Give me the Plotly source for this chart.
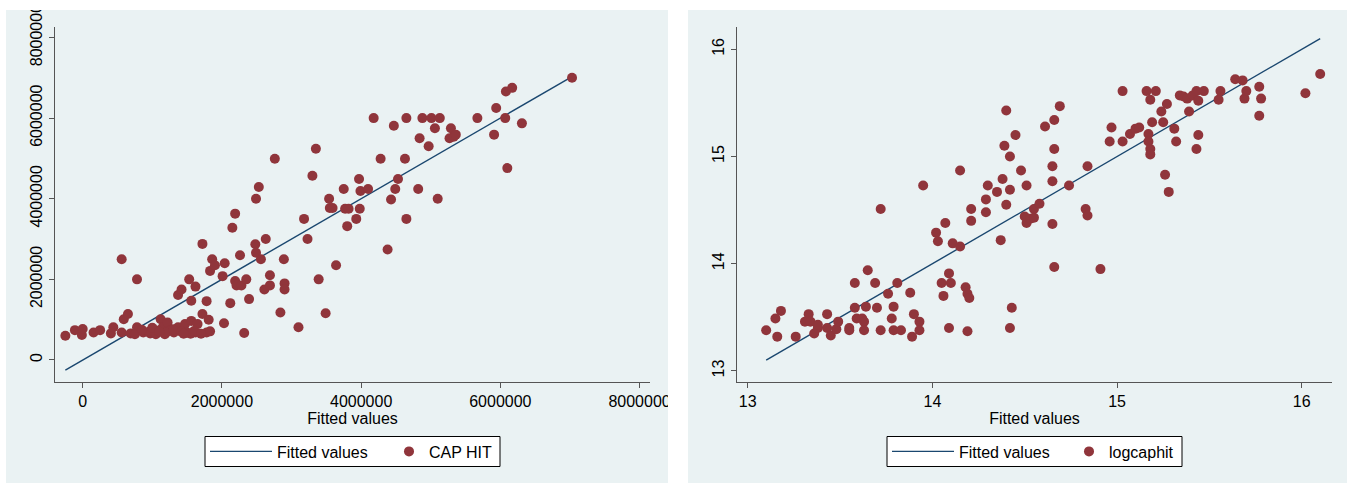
import plotly.graph_objects as go

# ---------------- data: left panel (CAP HIT vs fitted values) ----------------
cap_fitted = [-249000, -112000, -12000, 0, 156000, 250000, 405000, 440000, 560000, 590000,
              650000, 560000, 690000, 780000, 780000, 750000, 870000, 970000, 1060000, 1120000,
              1150000, 1180000, 1220000, 1250000, 1310000, 1370000, 1470000, 1500000, 1560000, 1620000,
              1650000, 1720000, 1780000, 1810000, 1830000, 1370000, 1420000, 1530000, 1560000, 1620000,
              1720000, 1780000, 1830000, 1860000, 1900000, 2010000, 2040000, 2030000, 2120000, 2150000,
              2190000, 2190000, 2210000, 2260000, 2280000, 2320000, 2350000, 2390000, 2480000, 2490000,
              2490000, 2530000, 2560000, 2610000, 2630000, 2690000, 2690000, 2760000, 2840000, 2890000,
              2900000, 2900000, 3100000, 3180000, 3230000, 3300000, 3350000, 3390000, 3490000, 3540000,
              3550000, 3590000, 3640000, 3750000, 3770000, 3820000, 3800000, 3930000, 3970000, 3980000,
              3990000, 4100000, 4180000, 4280000, 4380000, 4430000, 4470000, 4490000, 4530000, 4630000,
              4650000, 4650000, 4820000, 4840000, 4880000, 4970000, 5010000, 5060000, 5100000, 5130000,
              5270000, 5290000, 5330000, 5360000, 5670000, 5910000, 5940000, 6070000, 6080000, 6100000,
              6170000, 6310000, 7030000,
              950000, 1050000, 1200000, 1300000, 1420000, 1550000, 1600000, 1700000, 850000, 1000000,
              1100000, 1450000]
cap_hit = [600000, 740000, 620000, 770000, 680000, 740000, 660000, 810000, 2500000, 1010000,
           1140000, 680000, 660000, 2000000, 810000, 640000, 680000, 660000, 730000, 1010000,
           810000, 640000, 930000, 730000, 680000, 810000, 890000, 680000, 970000, 680000,
           890000, 1140000, 680000, 1000000, 710000, 1610000, 1750000, 2000000, 1470000, 1820000,
           2880000, 1460000, 2210000, 2500000, 2350000, 2080000, 2400000, 910000, 1410000, 3280000,
           3630000, 1960000, 1850000, 2600000, 1850000, 670000, 2000000, 1510000, 2870000, 4000000,
           2660000, 4290000, 2500000, 1750000, 3000000, 2100000, 1850000, 4990000, 1180000, 2500000,
           1900000, 1750000, 810000, 3500000, 3000000, 4570000, 5240000, 2000000, 1160000, 4000000,
           3770000, 3770000, 2350000, 4240000, 3750000, 3750000, 3320000, 3500000, 4490000, 3750000,
           4190000, 4240000, 6000000, 4990000, 2740000, 3980000, 5810000, 4240000, 4490000, 4990000,
           6000000, 3500000, 4240000, 5500000, 6000000, 5300000, 6000000, 5750000, 4000000, 6000000,
           5500000, 5750000, 5540000, 5590000, 6000000, 5590000, 6250000, 6000000, 6660000, 4760000,
           6750000, 5870000, 7000000,
           700000, 640000, 690000, 760000, 700000, 650000, 720000, 650000, 750000, 800000,
           700000, 650000]
cap_ticks = [0, 2000000, 4000000, 6000000, 8000000]
cap_ticktext = ["0", "2000000", "4000000", "6000000", "8000000"]

# ---------------- data: right panel (logcaphit vs fitted values) ----------------
log_fitted = [13.10, 13.15, 13.16, 13.18, 13.26, 13.31, 13.33, 13.34, 13.36, 13.38,
              13.38, 13.43, 13.43, 13.45, 13.48, 13.49, 13.55, 13.55, 13.58, 13.58,
              13.59, 13.62, 13.63, 13.63, 13.64, 13.65, 13.69, 13.70, 13.72, 13.72,
              13.76, 13.78, 13.79, 13.79, 13.81, 13.83, 13.88, 13.89, 13.90, 13.93,
              13.93, 13.95, 14.02, 14.03, 14.05, 14.06, 14.07, 14.09, 14.09, 14.10,
              14.11, 14.15, 14.15, 14.18, 14.19, 14.19, 14.20, 14.21, 14.21, 14.29,
              14.29, 14.30, 14.35, 14.37, 14.38, 14.39, 14.40, 14.40, 14.42, 14.42,
              14.42, 14.43, 14.45, 14.48, 14.50, 14.51, 14.51, 14.53, 14.55, 14.55,
              14.58, 14.61, 14.65, 14.65, 14.65, 14.66, 14.66, 14.66, 14.69, 14.74,
              14.83, 14.84, 14.84, 14.91, 14.96, 14.97, 15.03, 15.03, 15.07, 15.10,
              15.12, 15.16, 15.17, 15.17, 15.18, 15.18, 15.18, 15.19, 15.21, 15.24,
              15.25, 15.26, 15.27, 15.28, 15.31, 15.32, 15.34, 15.36, 15.38, 15.39,
              15.41, 15.43, 15.43, 15.44, 15.44, 15.47, 15.55, 15.56, 15.64, 15.68,
              15.69, 15.70, 15.77, 15.77, 15.78, 16.02, 16.10]
log_caphit = [13.38, 13.49, 13.32, 13.56, 13.32, 13.46, 13.53, 13.46, 13.35, 13.40,
              13.43, 13.53, 13.40, 13.33, 13.39, 13.46, 13.38, 13.40, 13.59, 13.82,
              13.49, 13.49, 13.46, 13.38, 13.60, 13.94, 13.82, 13.59, 13.38, 14.51,
              13.72, 13.49, 13.60, 13.38, 13.82, 13.38, 13.73, 13.32, 13.53, 13.46,
              13.38, 14.73, 14.29, 14.21, 13.82, 13.70, 14.38, 13.91, 13.40, 13.82,
              14.19, 14.87, 14.16, 13.78, 13.72, 13.37, 13.68, 14.51, 14.40, 14.48,
              14.60, 14.73, 14.67, 14.22, 14.79, 15.10, 15.43, 14.55, 15.00, 14.69,
              13.40, 13.59, 15.20, 14.87, 14.44, 14.73, 14.38, 14.42, 14.43, 14.51,
              14.56, 15.28, 14.91, 14.77, 14.37, 15.34, 15.07, 13.97, 15.47, 14.73,
              14.51, 14.45, 14.91, 13.95, 15.14, 15.27, 15.14, 15.61, 15.21, 15.26,
              15.27, 15.61, 15.21, 15.14, 15.53, 15.07, 15.02, 15.32, 15.61, 15.42,
              15.32, 14.83, 15.49, 14.67, 15.26, 15.14, 15.57, 15.56, 15.54, 15.42,
              15.57, 15.07, 15.61, 15.52, 15.20, 15.61, 15.53, 15.61, 15.72, 15.71,
              15.54, 15.61, 15.65, 15.38, 15.54, 15.59, 15.77]
log_ticks = [13, 14, 15, 16]
log_ticktext = ["13", "14", "15", "16"]

# ---------------- styling ----------------
NAVY = "#1A476F"
MAROON = "#90353B"
PANEL_BG = "#EAF2F3"
GRID = "#EAF2F3"
AXIS = "#555555"
FONT = "Liberation Sans, Arial, Helvetica, sans-serif"
W, H = 1349, 484

fig = go.Figure()

cap_line = sorted(cap_fitted)
log_line = sorted(log_fitted)

fig.add_trace(go.Scatter(x=cap_line, y=cap_line, mode="lines", name="Fitted values",
                         line=dict(color=NAVY, width=1.4), xaxis="x", yaxis="y", legend="legend"))
fig.add_trace(go.Scatter(x=cap_fitted, y=cap_hit, mode="markers", name="CAP HIT",
                         marker=dict(color=MAROON, size=10, line=dict(width=0)),
                         xaxis="x", yaxis="y", legend="legend2"))
fig.add_trace(go.Scatter(x=log_line, y=log_line, mode="lines", name="Fitted values",
                         line=dict(color=NAVY, width=1.4), xaxis="x2", yaxis="y2", legend="legend3"))
fig.add_trace(go.Scatter(x=log_fitted, y=log_caphit, mode="markers", name="logcaphit",
                         marker=dict(color=MAROON, size=10, line=dict(width=0)),
                         xaxis="x2", yaxis="y2", legend="legend4"))

def px_x(p):
    return p / W

def px_y(p):
    return (H - p) / H

ydom = [px_y(382), px_y(27)]

common_x = dict(showgrid=False, zeroline=False, showline=True, linecolor=AXIS, linewidth=1.3,
                ticks="outside", ticklen=5, tickcolor=AXIS, tickwidth=1, automargin=False,
                tickfont=dict(size=16, color="black", family=FONT),
                title=dict(text="Fitted values", font=dict(size=16, color="black", family=FONT), standoff=3))
common_y = dict(showgrid=True, gridcolor=GRID, gridwidth=1.5, zeroline=False, showline=True,
                linecolor=AXIS, linewidth=1.3, ticks="outside", ticklen=5, tickcolor=AXIS, tickwidth=1,
                automargin=False, tickangle=-90, tickfont=dict(size=16, color="black", family=FONT))

def leg(left_px, iw):
    return dict(orientation="h", x=px_x(left_px), y=px_y(451.5), xanchor="left", yanchor="middle",
                bgcolor="rgba(0,0,0,0)", borderwidth=0, itemwidth=iw,
                font=dict(size=16, color="black", family=FONT))

LEFT_BOX = 205
RIGHT_BOX = 887
BOX_W = 295

def box(x0):
    return dict(type="rect", xref="paper", yref="paper", x0=px_x(x0), x1=px_x(x0 + BOX_W),
                y0=px_y(466.5), y1=px_y(436.5), fillcolor="white",
                line=dict(color="black", width=1), layer="below")

def white(x0, x1, y0, y1):
    return dict(type="rect", xref="paper", yref="paper", x0=px_x(x0), x1=px_x(x1),
                y0=px_y(y1), y1=px_y(y0), fillcolor="white", line=dict(width=0), layer="above")

fig.update_layout(
    width=W, height=H,
    autosize=False,
    margin=dict(l=0, r=0, t=0, b=0, pad=0, autoexpand=False),
    paper_bgcolor="white",
    plot_bgcolor="white",
    font=dict(family=FONT, size=16, color="black"),
    xaxis=dict(domain=[px_x(55), px_x(650)], range=[-398000, 8150000], anchor="y",
               tickvals=cap_ticks, ticktext=cap_ticktext, **common_x),
    yaxis=dict(domain=ydom, range=[-546000, 8260000], anchor="x",
               tickvals=cap_ticks, ticktext=cap_ticktext, **common_y),
    xaxis2=dict(domain=[px_x(737), px_x(1332)], range=[12.942, 16.164], anchor="y2",
                tickvals=log_ticks, ticktext=log_ticktext, **common_x),
    yaxis2=dict(domain=ydom, range=[12.897, 16.208], anchor="x2",
                tickvals=log_ticks, ticktext=log_ticktext, **common_y),
    legend=leg(LEFT_BOX, 62),
    legend2=leg(LEFT_BOX + 184, 30),
    legend3=leg(RIGHT_BOX, 62),
    legend4=leg(RIGHT_BOX + 182, 30),
    shapes=[
        dict(type="rect", xref="paper", yref="paper", x0=px_x(6), x1=px_x(668), y0=px_y(483), y1=px_y(10),
             fillcolor=PANEL_BG, line=dict(width=0), layer="below"),
        dict(type="rect", xref="paper", yref="paper", x0=px_x(688), x1=px_x(1347), y0=px_y(483), y1=px_y(10),
             fillcolor=PANEL_BG, line=dict(width=0), layer="below"),
        box(LEFT_BOX),
        box(RIGHT_BOX),
        white(0, W, 0, 10),
        white(668, 688, 0, H),
        white(0, 6, 0, H),
        white(1347, W, 0, H),
    ],
    showlegend=True,
)

fig.write_html("out.html", config={"displayModeBar": False},
               post_script="document.body.style.margin='0';document.body.style.overflow='hidden';")
